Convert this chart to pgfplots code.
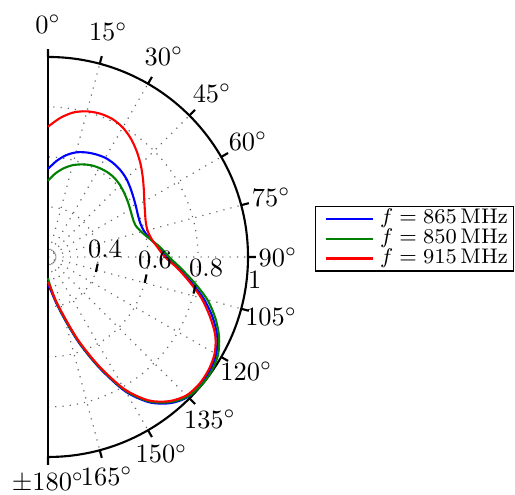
\documentclass[border=0pt]{standalone}
\usepackage{pgfplots}
\pgfplotsset{compat=1.18}
\usepgfplotslibrary{polar}
\usepackage{pgfplotstable}

\pgfplotstableread{
t r
0 0.552
5 0.585
10 0.613
15 0.633
20 0.645
25 0.653
30 0.658
35 0.657
40 0.652
45 0.643
50 0.630
55 0.617
60 0.606
65 0.597
70 0.593
75 0.598
80 0.616
85 0.645
90 0.676
95 0.725
100 0.782
105 0.845
110 0.900
115 0.947
120 0.977
125 0.992
130 0.998
135 0.992
140 0.963
145 0.910
150 0.822
155 0.692
160 0.568
165 0.458
170 0.385
175 0.335
180 0.310
}\blueT

\pgfplotstableread{
t r
0 0.505
5 0.535
10 0.560
15 0.580
20 0.594
25 0.605
30 0.611
35 0.614
40 0.613
45 0.607
50 0.598
55 0.589
60 0.580
65 0.573
70 0.572
75 0.587
80 0.614
85 0.650
90 0.684
95 0.735
100 0.795
105 0.860
110 0.912
115 0.955
120 0.985
125 0.998
130 1.000
135 0.990
140 0.958
145 0.905
150 0.815
155 0.686
160 0.562
165 0.452
170 0.378
175 0.322
180 0.285
}\greenT

\pgfplotstableread{
t r
0 0.721
5 0.758
10 0.787
15 0.803
20 0.810
25 0.809
30 0.798
35 0.778
40 0.752
45 0.724
50 0.695
55 0.668
60 0.645
65 0.628
70 0.616
75 0.612
80 0.620
85 0.640
90 0.668
95 0.720
100 0.775
105 0.835
110 0.888
115 0.938
120 0.970
125 0.985
130 0.990
135 0.983
140 0.953
145 0.900
150 0.810
155 0.680
160 0.555
165 0.445
170 0.375
175 0.325
180 0.300
}\redT

\definecolor{mplgreen}{rgb}{0,0.5,0}

\begin{document}
\begin{tikzpicture}
\begin{polaraxis}[
  scale only axis, width=151.46pt, height=151.46pt,
  xmin=-90, xmax=90, ymin=0, ymax=0.8,
  xtick={-90,-75,...,90}, xticklabels={},
  ytick={0.028,0.2,0.4,0.6}, yticklabels={},
  ytick style={draw=none},
  xtick align=inside, major tick length=3pt,
  xmajorgrids, ymajorgrids,
  grid style={black!60, line width=0.45pt, dash pattern=on 0.45pt off 2.3pt},
  axis line style={line width=0.8pt},
  xtick style={line width=0.8pt, black},
  clip=false,
  legend style={at={(1.334,0.546)}, anchor=west, font=\footnotesize, draw=black,
    inner xsep=1.5pt, inner ysep=0.2pt, row sep=-1.5pt,
    nodes={inner xsep=0.5pt, inner ysep=1pt}},
  legend image code/.code={
    \path (0pt,0pt) (21.7pt,0pt);
    \draw[#1] (2pt,0pt) -- (20pt,0pt);
  },
  legend cell align=left,
]
\addplot[blue, line width=0.8pt, smooth] table[x expr=90-\thisrow{t}, y expr=\thisrow{r}-0.2]{\blueT};
\addlegendentry{$f = 865\,\mathrm{MHz}$}
\addplot[mplgreen, line width=0.8pt, smooth] table[x expr=90-\thisrow{t}, y expr=\thisrow{r}-0.2]{\greenT};
\addlegendentry{$f = 850\,\mathrm{MHz}$}
\addplot[red, line width=0.8pt, smooth] table[x expr=90-\thisrow{t}, y expr=\thisrow{r}-0.2]{\redT};
\addlegendentry{$f = 915\,\mathrm{MHz}$}

\coordinate (C) at (axis cs:0,0);
\node at (axis cs:90,0.932) {$0^\circ$};
\node at (axis cs:75,0.932) {$15^\circ$};
\node at (axis cs:60,0.928) {$30^\circ$};
\node at (axis cs:45,0.928) {$45^\circ$};
\node at (axis cs:30,0.924) {$60^\circ$};
\node at (axis cs:15,0.924) {$75^\circ$};
\node at (axis cs:0,0.92) {$90^\circ$};
\node at (axis cs:-15,0.924) {$105^\circ$};
\node at (axis cs:-30,0.916) {$120^\circ$};
\node at (axis cs:-45,0.916) {$135^\circ$};
\node at (axis cs:-60,0.908) {$150^\circ$};
\node at (axis cs:-75,0.908) {$165^\circ$};
\node at (axis cs:-90,0.904) {$\pm180^\circ$};

\node at (axis cs:8,0.230) {$0.4$};
\node at (axis cs:-1.6,0.428) {$0.6$};
\node at (axis cs:-4,0.634) {$0.8$};
\node at (axis cs:-6.3,0.832) {$1$};

\draw[line width=0.8pt] (axis cs:-12.5,0.2) ++(77.5:1.6pt) -- ++(-102.5:3.2pt);
\draw[line width=0.8pt] (axis cs:-12.5,0.4) ++(77.5:1.6pt) -- ++(-102.5:3.2pt);
\draw[line width=0.8pt] (axis cs:-12.5,0.6) ++(77.5:1.6pt) -- ++(-102.5:3.2pt);
\end{polaraxis}
\pgfresetboundingbox
\path[use as bounding box] (C) ++(-18.17pt,-90.1pt) rectangle ++(195pt,187.4pt);
\end{tikzpicture}
\end{document}
